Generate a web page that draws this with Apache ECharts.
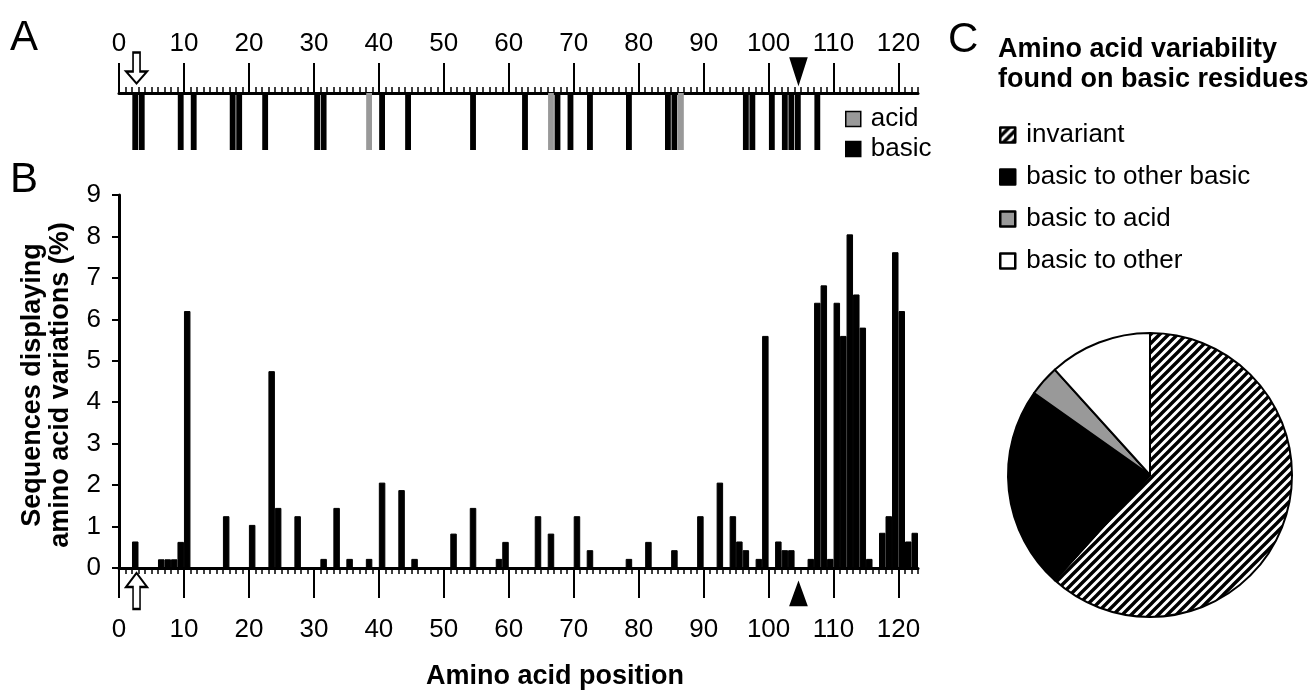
<!DOCTYPE html>
<html>
<head>
<meta charset="utf-8">
<script src="https://cdn.jsdelivr.net/npm/echarts@6/dist/echarts.min.js"></script>
<style>
  html, body { margin: 0; background: #fff; }
  #chart { width: 1315px; height: 691px; }
</style>
</head>
<body>
<div id="chart"></div>
<script>
// sequence length and axis labels
const residueCount = 123
const tickLabels = [0, 10, 20, 30, 40, 50, 60, 70, 80, 90, 100, 110, 120]

// panel A: charged residue positions
const basicSites = [3, 4, 10, 12, 18, 19, 23, 31, 32, 41, 45, 55, 63, 68, 70, 73, 79, 85, 86, 97, 98, 101, 103, 104, 105, 108]
const acidSites = [39, 67, 87]

// panel B: % of sequences with a variation at each position
const variablePositions = [3, 7, 8, 9, 10, 11, 17, 21, 24, 25, 28, 32, 34, 36, 39, 41, 44, 46, 52, 55, 59, 60, 65, 67, 71, 73, 79, 82, 86, 90, 93, 95, 96, 97, 99, 100, 102, 103, 104, 107, 108, 109, 110, 111, 112, 113, 114, 115, 116, 118, 119, 120, 121, 122, 123]
const variationPct = [0.64, 0.21, 0.21, 0.21, 0.63, 6.2, 1.25, 1.04, 4.75, 1.45, 1.25, 0.22, 1.45, 0.22, 0.22, 2.06, 1.88, 0.22, 0.83, 1.45, 0.22, 0.63, 1.25, 0.83, 1.25, 0.43, 0.22, 0.63, 0.43, 1.25, 2.06, 1.25, 0.64, 0.43, 0.22, 5.6, 0.64, 0.43, 0.43, 0.22, 6.4, 6.82, 0.22, 6.4, 5.6, 8.05, 6.6, 5.8, 0.22, 0.85, 1.25, 7.62, 6.2, 0.64, 0.85]

// markers (axis units)
const openArrowAt = 2.7
const triangleAt = 104.6

// panel C
const pieNames = ['invariant', 'basic to other basic', 'basic to acid', 'basic to other']
const pieValues = [61.7, 23.1, 3.5, 11.7]

const FONT = '"Liberation Sans", Arial, sans-serif'

const bands = Array.from({ length: residueCount }, (_, i) => String(i + 1))
const points = Array.from({ length: residueCount + 1 }, (_, i) => String(i))
const siteBars = sites => bands.map((_, i) => sites.includes(i + 1) ? 1 : null)
const variationBars = bands.map((_, i) => {
  const k = variablePositions.indexOf(i + 1)
  return k < 0 ? null : variationPct[k]
})

function hatch() {
  const s = 9
  const c = document.createElement('canvas')
  c.width = c.height = s
  const g = c.getContext('2d')
  g.fillStyle = '#fff'
  g.fillRect(0, 0, s, s)
  g.strokeStyle = '#000'
  g.lineWidth = 3.4
  g.beginPath()
  g.moveTo(-3, 3); g.lineTo(3, -3)
  g.moveTo(-3, s + 3); g.lineTo(s + 3, -3)
  g.moveTo(s - 3, s + 3); g.lineTo(s + 3, s - 3)
  g.stroke()
  return c
}

const openArrowDown = 'path://M7,0 L14,0 L14,19 L21,19 L10.5,31 L0,19 L7,19 Z'
const openArrowUp = 'path://M10.5,0 L21,12 L14,12 L14,31 L7,31 L7,12 L0,12 Z'
const triDown = 'path://M0,0 L16,0 L8,25 Z'
const triUp = 'path://M8,0 L16,22 L0,22 Z'

const minorAxis = (grid, pos) => ({
  type: 'category', gridIndex: grid, position: pos, data: bands, boundaryGap: true,
  axisLine: { show: true, onZero: false, lineStyle: { color: '#000', width: 3 } },
  axisTick: { show: true, interval: 0, length: 6, lineStyle: { color: '#000', width: 1.5 } },
  axisLabel: { show: false }, splitLine: { show: false }
})
const majorAxis = (grid, pos, margin) => ({
  type: 'category', gridIndex: grid, position: pos, data: points, boundaryGap: false,
  axisLine: { show: false, onZero: false },
  axisTick: { show: true, interval: i => tickLabels.includes(i), length: 30, lineStyle: { color: '#000', width: 2 } },
  axisLabel: { show: true, interval: i => tickLabels.includes(i), margin, color: '#000', fontSize: 26, fontFamily: FONT },
  splitLine: { show: false }
})
const hiddenValue = grid => ({ type: 'value', gridIndex: grid, min: 0, max: residueCount, show: false })

const marker = (x, yAxis, at, symbol, size, offset, fill) => ({
  type: 'scatter', xAxisIndex: x, yAxisIndex: yAxis, clip: false, silent: true,
  symbol, symbolSize: size, symbolOffset: [0, offset],
  itemStyle: { color: fill, opacity: 1, borderColor: '#000', borderWidth: 2 },
  data: [[at, 0]]
})

const text = (t, x, y, size, bold, align, extra) => Object.assign({
  type: 'text', x, y, silent: true,
  style: { text: t, fill: '#000', font: (bold ? 'bold ' : '') + size + 'px ' + FONT, align: align || 'left', verticalAlign: 'middle' }
}, extra || {})

const chart = echarts.init(document.getElementById('chart'))
chart.setOption({
  animation: false,
  grid: [
    { left: 119, top: 93, width: 799, height: 57, outerBoundsMode: 'none' },
    { left: 119, top: 195, width: 799, height: 373, outerBoundsMode: 'none' }
  ],
  xAxis: [
    minorAxis(0, 'top'), majorAxis(0, 'top', 36), hiddenValue(0),
    minorAxis(1, 'bottom'), majorAxis(1, 'bottom', 49), hiddenValue(1)
  ],
  yAxis: [
    { type: 'value', gridIndex: 0, min: 0, max: 1, inverse: true, show: false },
    {
      type: 'value', gridIndex: 1, min: 0, max: 9, interval: 1,
      axisLine: { show: true, lineStyle: { color: '#000', width: 3 } },
      axisTick: { show: true, length: 7, lineStyle: { color: '#000', width: 2 } },
      axisLabel: { margin: 18, color: '#000', fontSize: 26, fontFamily: FONT },
      splitLine: { show: false }
    }
  ],
  legend: [
    {
      data: pieNames, orient: 'vertical', left: 999, top: 122, padding: 0,
      itemWidth: 15, itemHeight: 15, itemGap: 16, icon: 'rect', selectedMode: false,
      itemStyle: { borderColor: '#000', borderWidth: 2.5 },
      textStyle: { color: '#000', fontSize: 26, lineHeight: 26, fontFamily: FONT, padding: [0, 0, 0, 6] }
    },
    {
      data: ['acid', 'basic'], orient: 'vertical', left: 845, top: 106, padding: 0,
      itemWidth: 15, itemHeight: 15, itemGap: 4, icon: 'rect', selectedMode: false,
      itemStyle: { borderColor: '#000', borderWidth: 1.5 },
      textStyle: { color: '#000', fontSize: 26, lineHeight: 26, fontFamily: FONT, padding: [0, 0, 0, 5] }
    }
  ],
  series: [
    { name: 'basic', type: 'bar', xAxisIndex: 0, yAxisIndex: 0, data: siteBars(basicSites), barWidth: '90%', barGap: '-100%', itemStyle: { color: '#000' }, silent: true },
    { name: 'acid', type: 'bar', xAxisIndex: 0, yAxisIndex: 0, data: siteBars(acidSites), barWidth: '90%', barGap: '-100%', itemStyle: { color: '#999' }, silent: true },
    { name: 'variation', type: 'bar', xAxisIndex: 3, yAxisIndex: 1, data: variationBars, barWidth: '100%', itemStyle: { color: '#000', borderColor: '#000', borderWidth: 1 }, silent: true },
    marker(2, 0, openArrowAt, openArrowDown, [21, 31], -25, '#fff'),
    marker(2, 0, triangleAt, triDown, [16, 25], -22, '#000'),
    marker(5, 1, openArrowAt, openArrowUp, [21, 36], 23, '#fff'),
    marker(5, 1, triangleAt, triUp, [16, 22], 26, '#000'),
    {
      name: 'basic residues', type: 'pie', center: [1150, 475], radius: 142,
      startAngle: 90, clockwise: true, silent: true, label: { show: false }, labelLine: { show: false },
      itemStyle: { borderColor: '#000', borderWidth: 2 },
      data: pieNames.map((n, i) => ({
        name: n, value: pieValues[i],
        itemStyle: { color: [{ image: hatch(), repeat: 'repeat' }, '#000', '#999', '#fff'][i] }
      }))
    }
  ],
  graphic: [
    text('A', 10, 38, 42, false),
    text('B', 10, 180, 42, false),
    text('C', 948, 40, 42, false),
    text('Amino acid variability', 998, 50, 27, true),
    text('found on basic residues', 998, 80, 27, true),
    text('Amino acid position', 555, 677, 27, true, 'center'),
    text('Sequences displaying', 33, 385, 27, true, 'center', { rotation: Math.PI / 2 }),
    text('amino acid variations (%)', 61, 385, 27, true, 'center', { rotation: Math.PI / 2 })
  ]
})
window.addEventListener('resize', () => chart.resize())
</script>
</body>
</html>
